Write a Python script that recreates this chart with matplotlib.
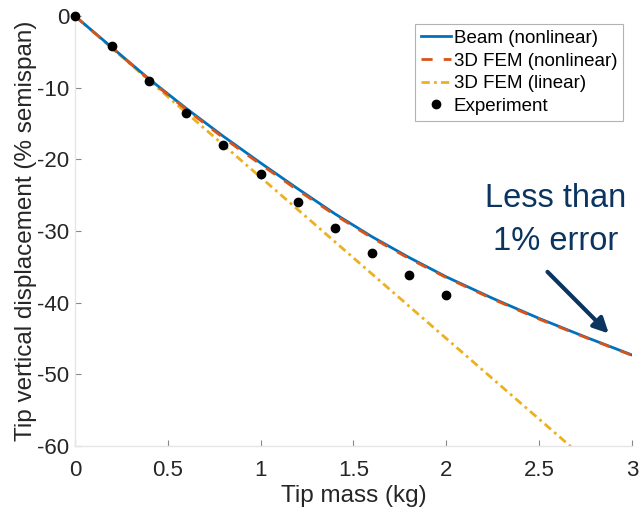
import matplotlib
matplotlib.use("Agg")
import matplotlib.pyplot as plt

plt.rcParams['font.family'] = ['Liberation Sans', 'DejaVu Sans']
plt.rcParams['axes.unicode_minus'] = False

# Data
mass_beam = [0, 0.2, 0.4, 0.6, 0.8, 1.0, 1.2, 1.4, 1.6, 1.8, 2.0, 2.25, 2.5, 2.75, 3.0]
disp_beam = [0, -4.4, -8.8, -12.9, -16.8, -20.5, -24.1, -27.6, -30.8, -33.7, -36.4, -39.4, -42.2, -44.8, -47.3]
disp_fem_nl = [0, -4.45, -8.9, -13.05, -17.0, -20.7, -24.3, -27.75, -30.95, -33.85, -36.5, -39.5, -42.3, -44.85, -47.35]
mass_lin = [0, 3.0]
disp_lin = [0, -67.5]
mass_exp = [0, 0.2, 0.4, 0.6, 0.8, 1.0, 1.2, 1.4, 1.6, 1.8, 2.0]
disp_exp = [0, -4.2, -9.1, -13.6, -18.0, -22.1, -26.0, -29.6, -33.0, -36.1, -38.9]

fig = plt.figure(figsize=(6.4, 5.13), dpi=100)
ax = fig.add_axes([0.117, 0.1306, 0.8705, 0.8382])

ax.plot(mass_beam, disp_beam, color='#0072BD', lw=2.0, label='Beam (nonlinear)', zorder=3)
ax.plot(mass_beam, disp_fem_nl, color='#D95319', lw=2.0, ls=(0, (4, 4)), label='3D FEM (nonlinear)', zorder=4)
ax.plot(mass_lin, disp_lin, color='#EDB120', lw=2.0, ls=(0, (3, 1.5, 1, 1.5)), label='3D FEM (linear)', zorder=2)
ax.plot(mass_exp, disp_exp, 'o', color='black', ms=6, label='Experiment', zorder=5, clip_on=False)

ax.set_xlim(0, 3)
ax.set_ylim(-60, 0)
ax.set_xticks([0, 0.5, 1, 1.5, 2, 2.5, 3])
ax.set_xticklabels(['0', '0.5', '1', '1.5', '2', '2.5', '3'])
ax.set_yticks([-60, -50, -40, -30, -20, -10, 0])

for s in ['top', 'right']:
    ax.spines[s].set_visible(False)
for s in ['left', 'bottom']:
    ax.spines[s].set_color('#e6e6e6')
    ax.spines[s].set_linewidth(1.0)
ax.tick_params(direction='in', length=4, width=0.8, color='#888888',
               labelsize=16, labelcolor='#262626', pad=4)
ax.tick_params(axis='x', pad=10)

ax.set_xlabel('Tip mass (kg)', fontsize=17.5, color='#262626', labelpad=3)
ax.set_ylabel('Tip vertical displacement (% semispan)', fontsize=17.5, color='#262626', labelpad=0)

leg = ax.legend(loc='upper right', bbox_to_anchor=(0.99, 0.99), fontsize=13.5,
                frameon=True, fancybox=False, handlelength=1.6, handletextpad=0.15,
                labelspacing=0.3, borderpad=0.3, borderaxespad=0.2)
leg.get_frame().set_edgecolor('#a0a0a0')
leg.get_frame().set_linewidth(0.8)

ax.text(2.59, -28.4, 'Less than\n1% error', fontsize=23.5, color='#0B3560',
        ha='center', va='center', linespacing=1.5)
ax.annotate('', xy=(2.875, -44.3), xytext=(2.545, -35.7),
            arrowprops=dict(arrowstyle='-|>,head_length=0.9,head_width=0.45',
                            color='#0B3560', lw=3, shrinkA=0, shrinkB=0))

fig.savefig('out.png', dpi=100)
